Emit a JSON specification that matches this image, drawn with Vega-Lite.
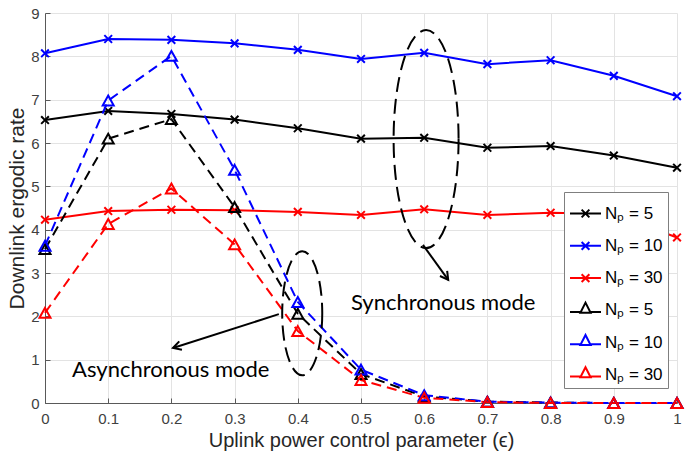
{
  "$schema": "https://vega.github.io/schema/vega-lite/v6.json",
  "width": 632,
  "height": 390,
  "autosize": {"type": "none"},
  "padding": {"left": 45, "top": 13, "right": 9, "bottom": 53},
  "background": "white",
  "config": {
    "view": {"stroke": null},
    "font": "Liberation Sans",
    "axis": {
      "labelFont": "Liberation Sans",
      "labelFontSize": 15,
      "labelColor": "#404040",
      "titleFont": "Liberation Sans",
      "titleFontWeight": "normal",
      "titleColor": "#262626",
      "gridColor": "#e3e3e3",
      "gridWidth": 1,
      "domainColor": "#595959",
      "domainWidth": 1,
      "tickColor": "#595959",
      "tickSize": -5
    }
  },
  "data": {
    "values": [
      {"x": 0.0, "y": 6.53, "s": "s5", "mode": "sync"},
      {"x": 0.1, "y": 6.74, "s": "s5", "mode": "sync"},
      {"x": 0.2, "y": 6.67, "s": "s5", "mode": "sync"},
      {"x": 0.3, "y": 6.54, "s": "s5", "mode": "sync"},
      {"x": 0.4, "y": 6.34, "s": "s5", "mode": "sync"},
      {"x": 0.5, "y": 6.10, "s": "s5", "mode": "sync"},
      {"x": 0.6, "y": 6.12, "s": "s5", "mode": "sync"},
      {"x": 0.7, "y": 5.89, "s": "s5", "mode": "sync"},
      {"x": 0.8, "y": 5.93, "s": "s5", "mode": "sync"},
      {"x": 0.9, "y": 5.71, "s": "s5", "mode": "sync"},
      {"x": 1.0, "y": 5.43, "s": "s5", "mode": "sync"},
      {"x": 0.0, "y": 8.07, "s": "s10", "mode": "sync"},
      {"x": 0.1, "y": 8.40, "s": "s10", "mode": "sync"},
      {"x": 0.2, "y": 8.38, "s": "s10", "mode": "sync"},
      {"x": 0.3, "y": 8.30, "s": "s10", "mode": "sync"},
      {"x": 0.4, "y": 8.15, "s": "s10", "mode": "sync"},
      {"x": 0.5, "y": 7.94, "s": "s10", "mode": "sync"},
      {"x": 0.6, "y": 8.08, "s": "s10", "mode": "sync"},
      {"x": 0.7, "y": 7.82, "s": "s10", "mode": "sync"},
      {"x": 0.8, "y": 7.91, "s": "s10", "mode": "sync"},
      {"x": 0.9, "y": 7.55, "s": "s10", "mode": "sync"},
      {"x": 1.0, "y": 7.08, "s": "s10", "mode": "sync"},
      {"x": 0.0, "y": 4.23, "s": "s30", "mode": "sync"},
      {"x": 0.1, "y": 4.43, "s": "s30", "mode": "sync"},
      {"x": 0.2, "y": 4.46, "s": "s30", "mode": "sync"},
      {"x": 0.3, "y": 4.45, "s": "s30", "mode": "sync"},
      {"x": 0.4, "y": 4.41, "s": "s30", "mode": "sync"},
      {"x": 0.5, "y": 4.34, "s": "s30", "mode": "sync"},
      {"x": 0.6, "y": 4.47, "s": "s30", "mode": "sync"},
      {"x": 0.7, "y": 4.34, "s": "s30", "mode": "sync"},
      {"x": 0.8, "y": 4.39, "s": "s30", "mode": "sync"},
      {"x": 0.9, "y": 4.36, "s": "s30", "mode": "sync"},
      {"x": 1.0, "y": 3.82, "s": "s30", "mode": "sync"},
      {"x": 0.0, "y": 3.55, "s": "a5", "mode": "async"},
      {"x": 0.1, "y": 6.10, "s": "a5", "mode": "async"},
      {"x": 0.2, "y": 6.55, "s": "a5", "mode": "async"},
      {"x": 0.3, "y": 4.52, "s": "a5", "mode": "async"},
      {"x": 0.4, "y": 2.06, "s": "a5", "mode": "async"},
      {"x": 0.5, "y": 0.67, "s": "a5", "mode": "async"},
      {"x": 0.6, "y": 0.15, "s": "a5", "mode": "async"},
      {"x": 0.7, "y": 0.03, "s": "a5", "mode": "async"},
      {"x": 0.8, "y": 0.01, "s": "a5", "mode": "async"},
      {"x": 0.9, "y": 0.0, "s": "a5", "mode": "async"},
      {"x": 1.0, "y": 0.0, "s": "a5", "mode": "async"},
      {"x": 0.0, "y": 3.63, "s": "a10", "mode": "async"},
      {"x": 0.1, "y": 6.98, "s": "a10", "mode": "async"},
      {"x": 0.2, "y": 8.01, "s": "a10", "mode": "async"},
      {"x": 0.3, "y": 5.38, "s": "a10", "mode": "async"},
      {"x": 0.4, "y": 2.33, "s": "a10", "mode": "async"},
      {"x": 0.5, "y": 0.77, "s": "a10", "mode": "async"},
      {"x": 0.6, "y": 0.18, "s": "a10", "mode": "async"},
      {"x": 0.7, "y": 0.03, "s": "a10", "mode": "async"},
      {"x": 0.8, "y": 0.01, "s": "a10", "mode": "async"},
      {"x": 0.9, "y": 0.0, "s": "a10", "mode": "async"},
      {"x": 1.0, "y": 0.0, "s": "a10", "mode": "async"},
      {"x": 0.0, "y": 2.08, "s": "a30", "mode": "async"},
      {"x": 0.1, "y": 4.13, "s": "a30", "mode": "async"},
      {"x": 0.2, "y": 4.95, "s": "a30", "mode": "async"},
      {"x": 0.3, "y": 3.66, "s": "a30", "mode": "async"},
      {"x": 0.4, "y": 1.66, "s": "a30", "mode": "async"},
      {"x": 0.5, "y": 0.53, "s": "a30", "mode": "async"},
      {"x": 0.6, "y": 0.12, "s": "a30", "mode": "async"},
      {"x": 0.7, "y": 0.02, "s": "a30", "mode": "async"},
      {"x": 0.8, "y": 0.0, "s": "a30", "mode": "async"},
      {"x": 0.9, "y": 0.0, "s": "a30", "mode": "async"},
      {"x": 1.0, "y": 0.0, "s": "a30", "mode": "async"}
    ]
  },
  "layer": [
    {
      "transform": [{"filter": "datum.mode == 'sync'"}],
      "mark": {"type": "line", "strokeWidth": 2},
      "encoding": {
        "x": {
          "field": "x", "type": "quantitative",
          "scale": {"domain": [0, 1], "nice": false, "zero": false},
          "axis": {
            "title": "Uplink power control parameter (ϵ)",
            "titleFontSize": 20,
            "titlePadding": 4,
            "values": [0, 0.1, 0.2, 0.3, 0.4, 0.5, 0.6, 0.7, 0.8, 0.9, 1],
            "format": ".1~f",
            "labelPadding": 13,
            "labelFlush": false
          }
        },
        "y": {
          "field": "y", "type": "quantitative",
          "scale": {"domain": [0, 9], "nice": false},
          "axis": {
            "title": "Downlink ergodic rate",
            "titleFontSize": 21,
            "titlePadding": 3,
            "values": [0, 1, 2, 3, 4, 5, 6, 7, 8, 9],
            "labelPadding": 11,
            "labelFlush": false
          }
        },
        "color": {
          "field": "s", "type": "nominal",
          "scale": {"domain": ["s5", "s10", "s30", "a5", "a10", "a30"], "range": ["#000000", "#0000ff", "#ff0000", "#000000", "#0000ff", "#ff0000"]},
          "legend": {
            "orient": "none",
            "legendX": 519,
            "legendY": 179,
            "title": null,
            "labelExpr": "'Nₚ = ' + substring(datum.value, 1)",
            "labelFont": "Liberation Sans",
            "labelFontSize": 17,
            "labelColor": "#000000",
            "labelOffset": 3,
            "symbolSize": 961,
            "symbolStrokeWidth": 2,
            "symbolType": "stroke",
            "rowPadding": 7.3,
            "padding": 5,
            "strokeColor": "#7f7f7f",
            "fillColor": "#ffffff",
            "cornerRadius": 0,
            "encode": {
              "symbols": {
                "update": {
                  "shape": {"signal": "substring(datum.value, 0, 1) == 's' ? 'M-1,0L1,0M-0.25,-0.25L0.25,0.25M-0.25,0.25L0.25,-0.25' : 'M-1,0.1L-0.3,0.1M0.3,0.1L1,0.1M0,-0.5L0.33,0.15L-0.33,0.15Z'"},
                  "fill": {"value": "transparent"},
                  "strokeWidth": {"value": 2},
                  "opacity": {"value": 1}
                }
              }
            }
          }
        }
      }
    },
    {
      "transform": [{"filter": "datum.mode == 'sync'"}],
      "mark": {"type": "point", "filled": false, "strokeWidth": 2, "size": 121, "opacity": 1, "shape": "M-0.7,-0.7L0.7,0.7M-0.7,0.7L0.7,-0.7"},
      "encoding": {
        "x": {"field": "x", "type": "quantitative"},
        "y": {"field": "y", "type": "quantitative"},
        "color": {"field": "s", "type": "nominal"}
      }
    },
    {
      "transform": [{"filter": "datum.mode == 'async'"}],
      "mark": {"type": "line", "strokeWidth": 2, "strokeDash": [10, 6]},
      "encoding": {
        "x": {"field": "x", "type": "quantitative"},
        "y": {"field": "y", "type": "quantitative"},
        "color": {"field": "s", "type": "nominal"}
      }
    },
    {
      "transform": [{"filter": "datum.mode == 'async'"}],
      "mark": {"type": "point", "filled": false, "strokeWidth": 2, "size": 121, "opacity": 1, "shape": "M0,-0.9L1,0.9L-1,0.9Z"},
      "encoding": {
        "x": {"field": "x", "type": "quantitative"},
        "y": {"field": "y", "type": "quantitative"},
        "color": {"field": "s", "type": "nominal"}
      }
    },
    {
      "data": {"values": [{"x": 0.603, "y": 6.09}]},
      "mark": {"type": "point", "filled": false, "stroke": "#000000", "strokeWidth": 2, "strokeDash": [15, 7], "opacity": 1, "size": 47524,
        "shape": "M0.298,0C0.298,0.5523 0.1646,1 0,1C-0.1646,1 -0.298,0.5523 -0.298,0C-0.298,-0.5523 -0.1646,-1 0,-1C0.1646,-1 0.298,-0.5523 0.298,0Z"},
      "encoding": {
        "x": {"field": "x", "type": "quantitative"},
        "y": {"field": "y", "type": "quantitative"}
      }
    },
    {
      "data": {"values": [{"x": 0.407, "y": 2.07}]},
      "mark": {"type": "point", "filled": false, "stroke": "#000000", "strokeWidth": 2, "strokeDash": [15, 7], "opacity": 1, "size": 15376,
        "shape": "M0.323,0C0.323,0.5523 0.1784,1 0,1C-0.1784,1 -0.323,0.5523 -0.323,0C-0.323,-0.5523 -0.1784,-1 0,-1C0.1784,-1 0.323,-0.5523 0.323,0Z"},
      "encoding": {
        "x": {"field": "x", "type": "quantitative"},
        "y": {"field": "y", "type": "quantitative"}
      }
    },
    {
      "data": {"values": [
        {"x": 0.598, "y": 3.65, "x2": 0.638, "y2": 2.84},
        {"x": 0.370, "y": 2.05, "x2": 0.2025, "y2": 1.27}
      ]},
      "mark": {"type": "rule", "stroke": "#000000", "strokeWidth": 2},
      "encoding": {
        "x": {"field": "x", "type": "quantitative"},
        "y": {"field": "y", "type": "quantitative"},
        "x2": {"field": "x2"},
        "y2": {"field": "y2"}
      }
    },
    {
      "data": {"values": [{"x": 0.638, "y": 2.84}]},
      "mark": {"type": "point", "filled": false, "stroke": "#000000", "strokeWidth": 2, "opacity": 1, "size": 256, "angle": 54.5, "shape": "M-1,-0.55L0,0L-1,0.55"},
      "encoding": {
        "x": {"field": "x", "type": "quantitative"},
        "y": {"field": "y", "type": "quantitative"}
      }
    },
    {
      "data": {"values": [{"x": 0.2025, "y": 1.27}]},
      "mark": {"type": "point", "filled": false, "stroke": "#000000", "strokeWidth": 2, "opacity": 1, "size": 256, "angle": 162.2, "shape": "M-1,-0.55L0,0L-1,0.55"},
      "encoding": {
        "x": {"field": "x", "type": "quantitative"},
        "y": {"field": "y", "type": "quantitative"}
      }
    },
    {
      "data": {"values": [
        {"x": 0.630, "y": 2.31, "label": "Synchronous mode"},
        {"x": 0.199, "y": 0.76, "label": "Asynchronous mode"}
      ]},
      "mark": {"type": "text", "font": "Lato", "fontSize": 22, "color": "#000000", "align": "center", "baseline": "middle"},
      "encoding": {
        "x": {"field": "x", "type": "quantitative"},
        "y": {"field": "y", "type": "quantitative"},
        "text": {"field": "label"}
      }
    }
  ]
}
